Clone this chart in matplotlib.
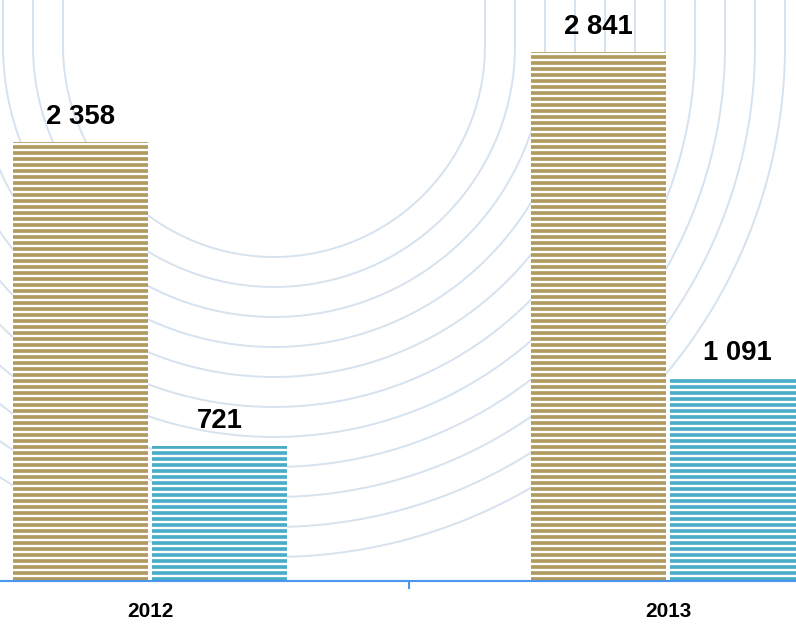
import numpy as np
import matplotlib
matplotlib.use("Agg")
import matplotlib.pyplot as plt

# data
years = ["2012", "2013"]
series_a = [2358, 2841]   # gold bars
series_b = [721, 1091]    # blue bars
value_labels_a = ["2 358", "2 841"]
value_labels_b = ["721", "1 091"]

gold = "#b09a5f"
blue = "#4aadc7"
axis_blue = "#4a97ee"
mark_col = "#d6e2ee"

DPI = 108
plt.rcParams["font.family"] = ["Liberation Sans", "DejaVu Sans"]
plt.rcParams["hatch.linewidth"] = 2.45

fig = plt.figure(figsize=(796 / DPI, 624 / DPI), dpi=DPI)

# faint watermark arcs in the background (pixel coordinates)
bg = fig.add_axes([0, 0, 1, 1], zorder=0)
bg.set_xlim(0, 796)
bg.set_ylim(624, 0)
bg.axis("off")
cx, cy = 274, 46
t = np.linspace(0, np.pi, 200)
for k in range(11):
    r = 211 + 30 * k
    xs = np.concatenate([[cx + r], cx + r * np.cos(t), [cx - r]])
    ys = np.concatenate([[0], cy + r * np.sin(t), [0]])
    bg.plot(xs, ys, color=mark_col, lw=1.3, solid_capstyle="round")

# main chart
ax = fig.add_axes([0, (624 - 580.5) / 624, 1, 580.5 / 624], zorder=1)
ax.patch.set_alpha(0)

x = np.arange(len(years))
w = 0.2606
off = 0.1342

bars_a = ax.bar(x - off, series_a, w, facecolor="white", edgecolor=gold,
                hatch="---", linewidth=0)
bars_b = ax.bar(x + off, series_b, w, facecolor="white", edgecolor=blue,
                hatch="---", linewidth=0)

ax.set_xlim(-0.2896, 1.2471)
ax.set_ylim(0, 3121)

for bars, labels in ((bars_a, value_labels_a), (bars_b, value_labels_b)):
    for b, lab in zip(bars, labels):
        ax.annotate(lab, (b.get_x() + b.get_width() / 2, b.get_height()),
                    xytext=(0, 12), textcoords="offset points",
                    ha="center", va="baseline", fontsize=18.3,
                    fontweight="bold", color="black")

for xi, yr in zip(x, years):
    ax.annotate(yr, (xi, 0), xycoords=("data", "axes fraction"),
                xytext=(0, -24.5), textcoords="offset points",
                ha="center", va="baseline", fontsize=13.8,
                fontweight="bold", color="black")

for s in ("top", "left", "right"):
    ax.spines[s].set_visible(False)
ax.spines["bottom"].set_color(axis_blue)
ax.spines["bottom"].set_linewidth(1.4)

ax.set_yticks([])
ax.set_xticks([0.5])
ax.set_xticklabels([""])
ax.tick_params(axis="x", direction="out", length=5.5, width=1.4,
               color=axis_blue)

fig.savefig("out.png", dpi=DPI)
